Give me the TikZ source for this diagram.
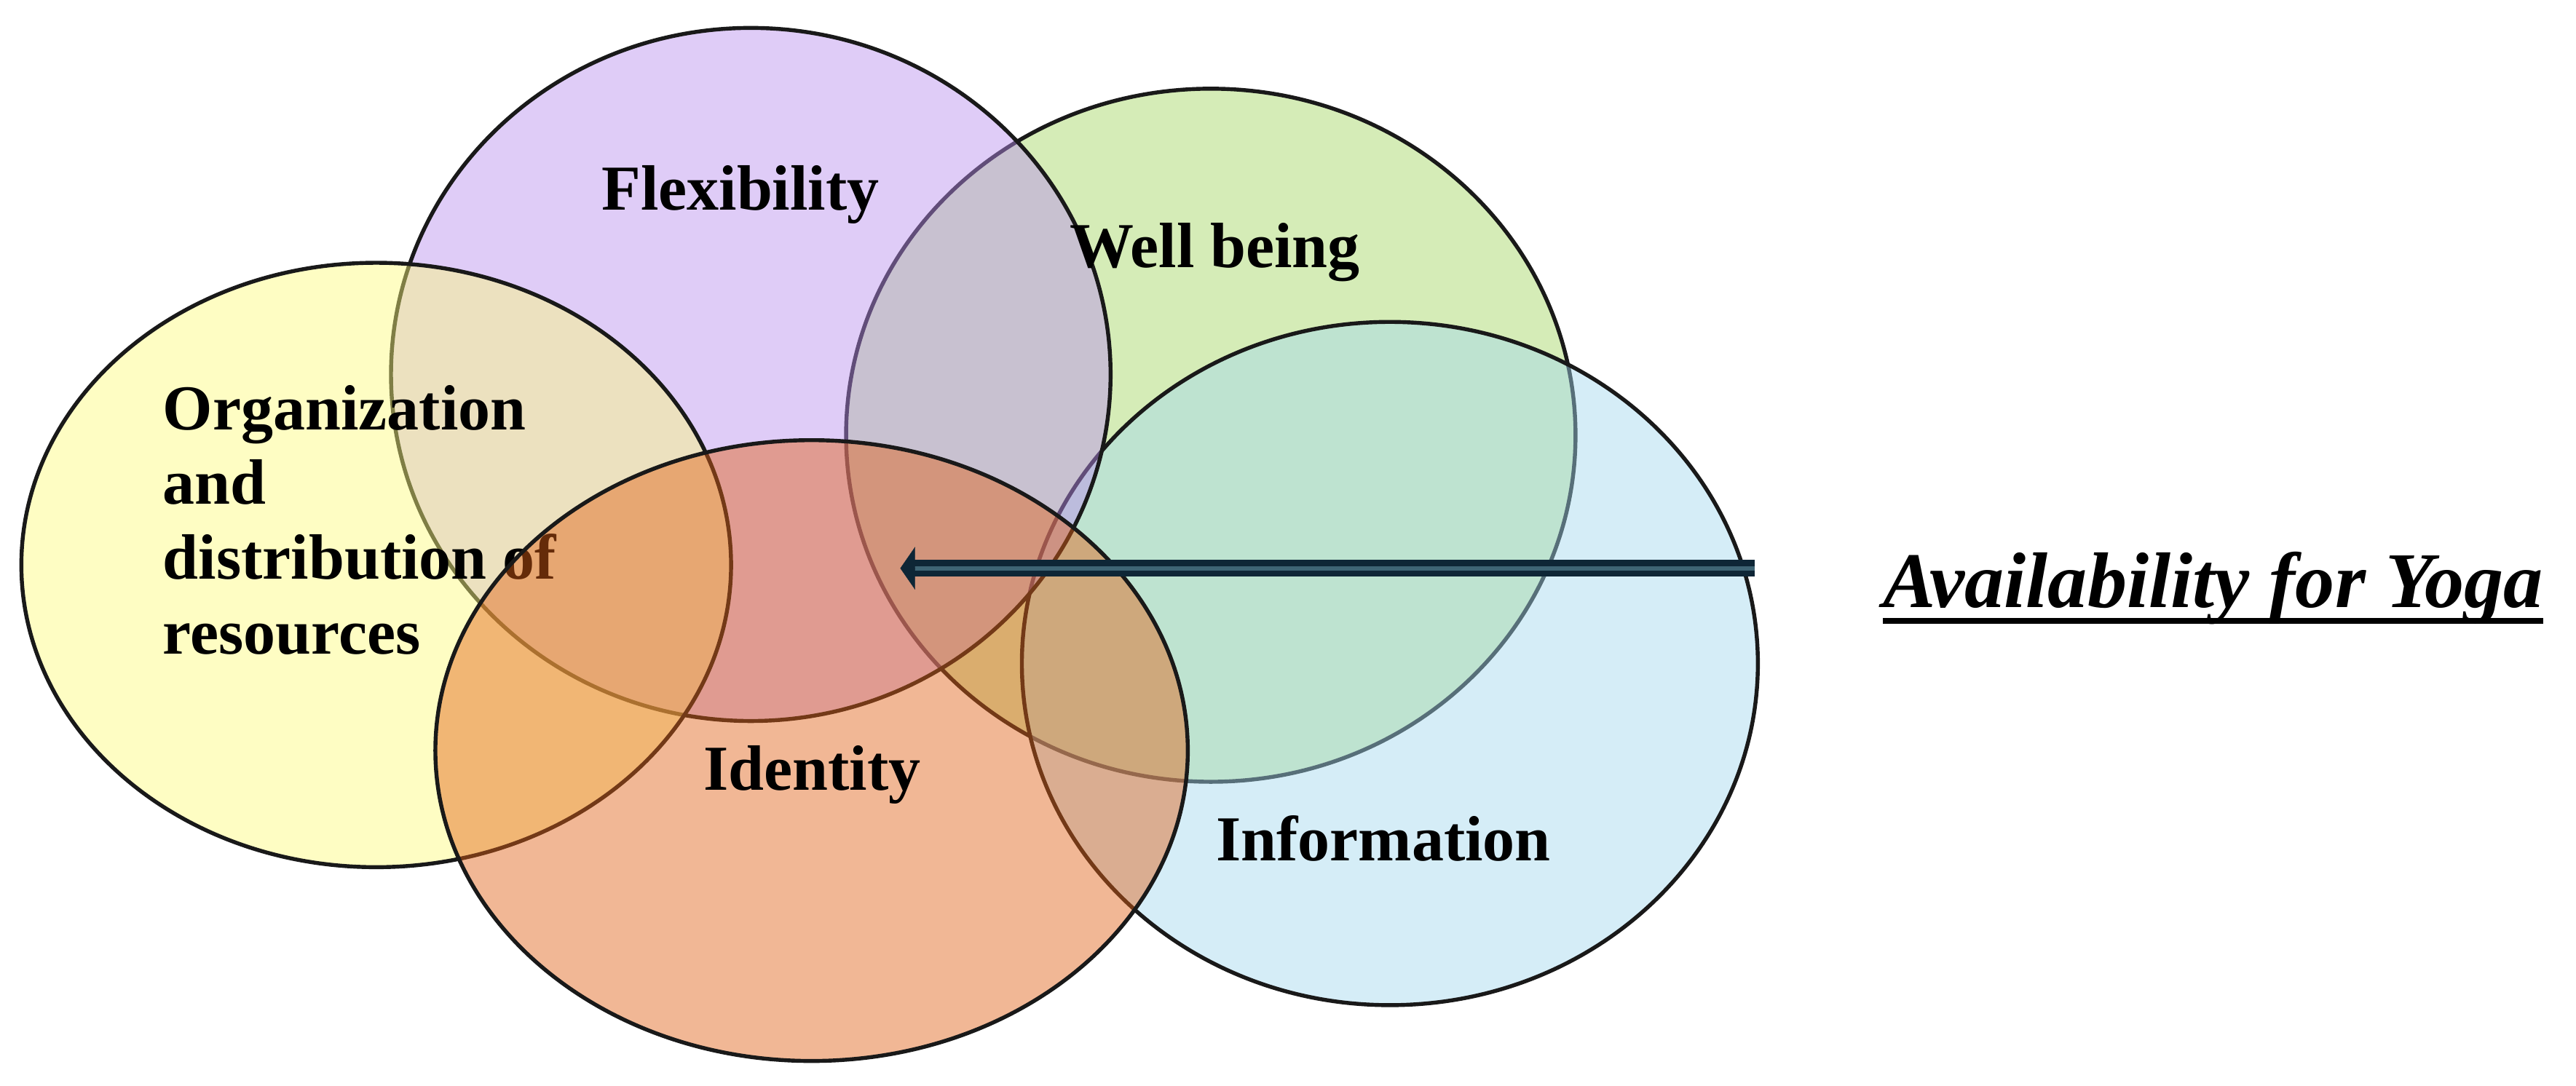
\documentclass[tikz,border=0pt]{standalone}
\usepackage{fontspec}
\setmainfont{Liberation Serif}
\usetikzlibrary{arrows.meta}
\definecolor{cgreen}{RGB}{164,215,97}
\definecolor{cblue}{RGB}{164,217,239}
\definecolor{cpurple}{RGB}{186,142,239}
\definecolor{cyellow}{RGB}{253,251,124}
\definecolor{corange}{RGB}{226,97,22}
\definecolor{arrdark}{RGB}{14,38,54}
\definecolor{arrlight}{RGB}{62,100,116}
\tikzset{
  blob/.style={draw=black!90, line width=2.4pt, fill opacity=0.45, draw opacity=1},
  lbl/.style={inner sep=0pt, font=\fontsize{39}{45.5}\selectfont\bfseries, text=black},
}
\begin{document}
\begin{tikzpicture}[x=1pt,y=-1pt]
\useasboundingbox (0,0) rectangle (1568,661);
\fill[white] (0,0) rectangle (1568,661);
% ellipses (back to front)
\draw[blob, fill=cgreen]  (737,265) ellipse [x radius=222, y radius=211];
\draw[blob, fill=cblue]   (846,404) ellipse [x radius=224, y radius=208];
\draw[blob, fill=cpurple] (457,228) ellipse [x radius=219, y radius=211];
\draw[blob, fill=cyellow] (229,344) ellipse [x radius=216, y radius=184];
\node[lbl, anchor=base west, align=left] (org) at (99,398)
  {Organization\\and\\distribution of\\resources};
\draw[blob, fill=corange] (494,457) ellipse [x radius=229, y radius=189];
% labels
\node[lbl, anchor=base west] (flex) at (366,128) {Flexibility};
\node[lbl, anchor=base west] (well) at (651,163) {Well being};
\node[lbl, anchor=base west] (iden) at (428,481) {Identity};
\node[lbl, anchor=base west] (info) at (740,524) {Information};
% arrow
\coordinate (arrS) at (1068,346);
\coordinate (arrE) at (556,346);
\coordinate (arrT) at (548,346);
\draw[arrdark, line width=10pt] (arrS) -- (arrE);
\draw[arrlight, line width=2.5pt] (arrS) -- (arrE);
\draw[arrdark, line width=0.1pt, -{Triangle[length=9pt,width=26pt]}] (arrE) -- (arrT);
% title
\node[inner sep=0pt, anchor=base west, font=\fontsize{48}{56}\selectfont\bfseries\itshape] (avail) at (1146,370) {Availability for Yoga};
\draw[black, line width=3.5pt] ([yshift=-8pt]avail.base west) -- ([yshift=-8pt]avail.base east);
\end{tikzpicture}
\end{document}
